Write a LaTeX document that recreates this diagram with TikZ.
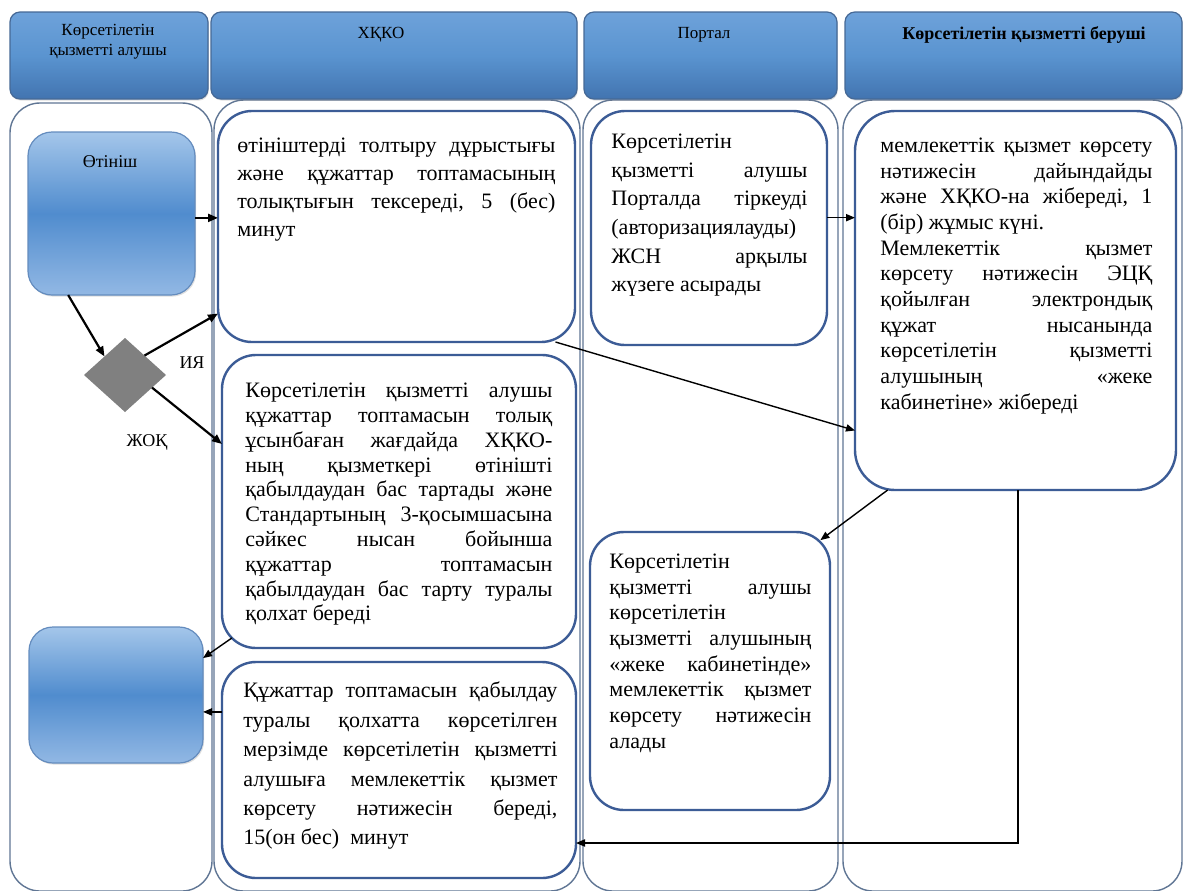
\documentclass[tikz,border=0pt]{standalone}
\usepackage{fontspec}
\setmainfont{Liberation Serif}
\usetikzlibrary{positioning,shapes.geometric,arrows.meta,shadows}
\definecolor{lanegray}{RGB}{96,118,148}
\definecolor{boxblue}{RGB}{60,92,150}
\definecolor{hdrtop}{RGB}{110,162,218}
\definecolor{hdrmid}{RGB}{90,148,208}
\definecolor{hdrbot}{RGB}{66,116,176}
\definecolor{hdrline}{RGB}{70,105,150}
\definecolor{bluetop}{RGB}{164,198,234}
\definecolor{bluemid}{RGB}{80,140,206}
\definecolor{bluebot}{RGB}{146,184,228}
\definecolor{blueline}{RGB}{100,140,190}
\definecolor{diagray}{RGB}{128,128,128}
\tolerance=10000
\hbadness=10000
\hyphenpenalty=10000
\exhyphenpenalty=10000

\begin{document}
\begin{tikzpicture}[x=0.5pt,y=-0.5pt,
	lane/.style={draw=lanegray,line width=0.7pt,rounded corners=15pt,minimum height=395.5pt,inner sep=0pt,outer sep=0pt},
	hdr/.style={draw=hdrline,line width=0.6pt,rounded corners=5pt,top color=hdrtop,bottom color=hdrbot,middle color=hdrmid,minimum height=43.5pt,inner sep=0pt,drop shadow={opacity=0.25,shadow xshift=0.4pt,shadow yshift=-0.8pt}},
	hdrtext/.style={font=\fontsize{8.5}{10}\selectfont,align=center,inner sep=0pt},
	procbox/.style={draw=boxblue,line width=1.2pt,rounded corners=17pt,fill=white,inner sep=0pt,outer sep=0pt},
	boxtext/.style={anchor=north west,align=justify,inner sep=0pt},
	bluebox/.style={draw=blueline,line width=0.6pt,rounded corners=12pt,top color=bluetop,bottom color=bluebot,middle color=bluemid,inner sep=0pt,outer sep=0pt,drop shadow={opacity=0.25,shadow xshift=0.6pt,shadow yshift=-0.8pt}},
	decision/.style={diamond,fill=diagray,inner sep=0pt,outer sep=0pt,minimum width=41pt,minimum height=37pt},
	lbl/.style={font=\fontsize{9}{10}\selectfont,inner sep=0pt},
	arr/.style={-{Triangle[length=5pt,width=4pt]},line width=1.1pt},
	thinarr/.style={-{Triangle[length=4.5pt,width=3.6pt]},line width=0.7pt}]
	\useasboundingbox (0,0) rectangle (1184,890);
	\fill[white] (0,0) rectangle (1184,890);

	\node[lane,minimum width=101pt,minimum height=394pt] (lane1) at (111,497) {};
	\node[lane,minimum width=183pt] (lane2) at (397,495.5) {};
	\node[lane,minimum width=127.5pt] (lane3) at (710.5,495.5) {};
	\node[lane,minimum width=169.5pt] (lane4) at (1012.5,495.5) {};

	\node[hdr,minimum width=99pt] (h1) at (109,55.5) {};
	\node[hdr,minimum width=183pt] (h2) at (394,55.5) {};
	\node[hdr,minimum width=126.5pt] (h3) at (710.5,55.5) {};
	\node[hdr,minimum width=168.5pt] (h4) at (1013.5,55.5) {};
	\node[hdrtext] (h1t) at (108,42) {Көрсетілетін\\қызметті алушы};
	\node[hdrtext] (h2t) at (381,35) {ХҚКО};
	\node[hdrtext] (h3t) at (704,35) {Портал};
	\node[hdrtext,font=\fontsize{9}{10}\selectfont\bfseries] (h4t) at (1024,35) {Көрсетілетін қызметті беруші};

	\node[bluebox,minimum width=83.5pt,minimum height=81.5pt] (apply) at (111.5,213.5) {};
	\node[lbl] (applyt) at (110,162) {Өтініш};
	\node[bluebox,minimum width=87pt,minimum height=68pt] (result) at (116,695) {};
	\node[decision] (dia) at (125,375) {};
	\node[lbl] (yes) at (192,363) {ИЯ};
	\node[lbl] (no) at (147,442) {ЖОҚ};

	\node[procbox,minimum width=178.5pt,minimum height=115.5pt] (bxA) at (396.5,226.5) {};
	\node[procbox,minimum width=177pt,minimum height=146.5pt] (bxB) at (399,501.5) {};
	\node[procbox,minimum width=177pt,minimum height=108pt] (bxC) at (399,770) {};
	\node[procbox,minimum width=118pt,minimum height=117pt] (bxD) at (709,228) {};
	\node[procbox,minimum width=160.5pt,minimum height=189.5pt,rounded corners=20pt] (bxE) at (1015.5,300.5) {};
	\node[procbox,minimum width=120pt,minimum height=139pt] (bxF) at (710,671) {};

	\node[boxtext,text width=159pt,font=\fontsize{11}{14}\selectfont] (tA) at (237,132)
		{\strut өтініштерді~толтыру~дұрыстығы\linebreak және~құжаттар~топтамасының\linebreak толықтығын~тексереді,~5~(бес)\linebreak минут};
	\node[boxtext,text width=153.5pt,font=\fontsize{11}{12.4}\selectfont] (tB) at (245,380)
		{\strut Көрсетілетін~қызметті~алушы\linebreak құжаттар~топтамасын~толық\linebreak ұсынбаған~жағдайда~ХҚКО-\linebreak ның~қызметкері~өтінішті\linebreak қабылдаудан~бас~тартады~және\linebreak Стандартының~3-қосымшасына\linebreak сәйкес~нысан~бойынша\linebreak құжаттар~топтамасын\linebreak қабылдаудан~бас~тарту~туралы\linebreak қолхат~береді};
	\node[boxtext,text width=157pt,font=\fontsize{11}{14.7}\selectfont] (tC) at (243,677)
		{\strut Құжаттар~топтамасын~қабылдау\linebreak туралы~қолхатта~көрсетілген\linebreak мерзімде~көрсетілетін~қызметті\linebreak алушыға~мемлекеттік~қызмет\linebreak көрсету~нәтижесін~береді,\linebreak 15(он~бес)~~минут};
	\node[boxtext,text width=98pt,font=\fontsize{11}{14.35}\selectfont] (tD) at (611,128)
		{\strut Көрсетілетін\linebreak қызметті~алушы\linebreak Порталда~тіркеуді\linebreak (авторизациялауды)\linebreak ЖСН~арқылы\linebreak жүзеге~асырады};
	\node[boxtext,text width=136pt,font=\fontsize{11}{12.85}\selectfont] (tE) at (880,134)
		{\strut мемлекеттік~қызмет~көрсету\linebreak нәтижесін~дайындайды\linebreak және~ХҚКО-на~жібереді,~1\linebreak (бір)~жұмыс~күні.\\ Мемлекеттік~қызмет\linebreak көрсету~нәтижесін~ЭЦҚ\linebreak қойылған~электрондық\linebreak құжат~нысанында\linebreak көрсетілетін~қызметті\linebreak алушының~«жеке\linebreak кабинетіне»~жібереді};
	\node[boxtext,text width=101pt,font=\fontsize{11}{12.85}\selectfont] (tF) at (609,550)
		{\strut Көрсетілетін\linebreak қызметті~алушы\linebreak көрсетілетін\linebreak қызметті~алушының\linebreak «жеке~кабинетінде»\linebreak мемлекеттік~қызмет\linebreak көрсету~нәтижесін\linebreak алады};

	\draw[arr] (apply.-3) -- (apply.-3 -| bxA.west);
	\draw[arr] (apply.-118) -- (dia.north west);
	\draw[arr] (dia.45) -- (bxA.206);
	\draw[arr] (dia.-25) -- (bxB.162);
	\draw[thinarr] (bxA.-36) -- (bxE.219);
	\draw[thinarr] (bxD.5) -- (bxD.5 -| bxE.west);
	\draw[thinarr,shorten >=-6pt] (bxE.-124) -- (bxF.49);
	\coordinate (turn) at (1018,843);
	\draw[thinarr] (bxE.south -| turn) -- (turn) -- (turn -| bxC.east);
	\draw[thinarr,shorten <=-6pt] (bxB.-141) -- (result.23);
	\draw[thinarr] (result.-11 -| bxC.west) -- (result.-11);
\end{tikzpicture}
\end{document}
